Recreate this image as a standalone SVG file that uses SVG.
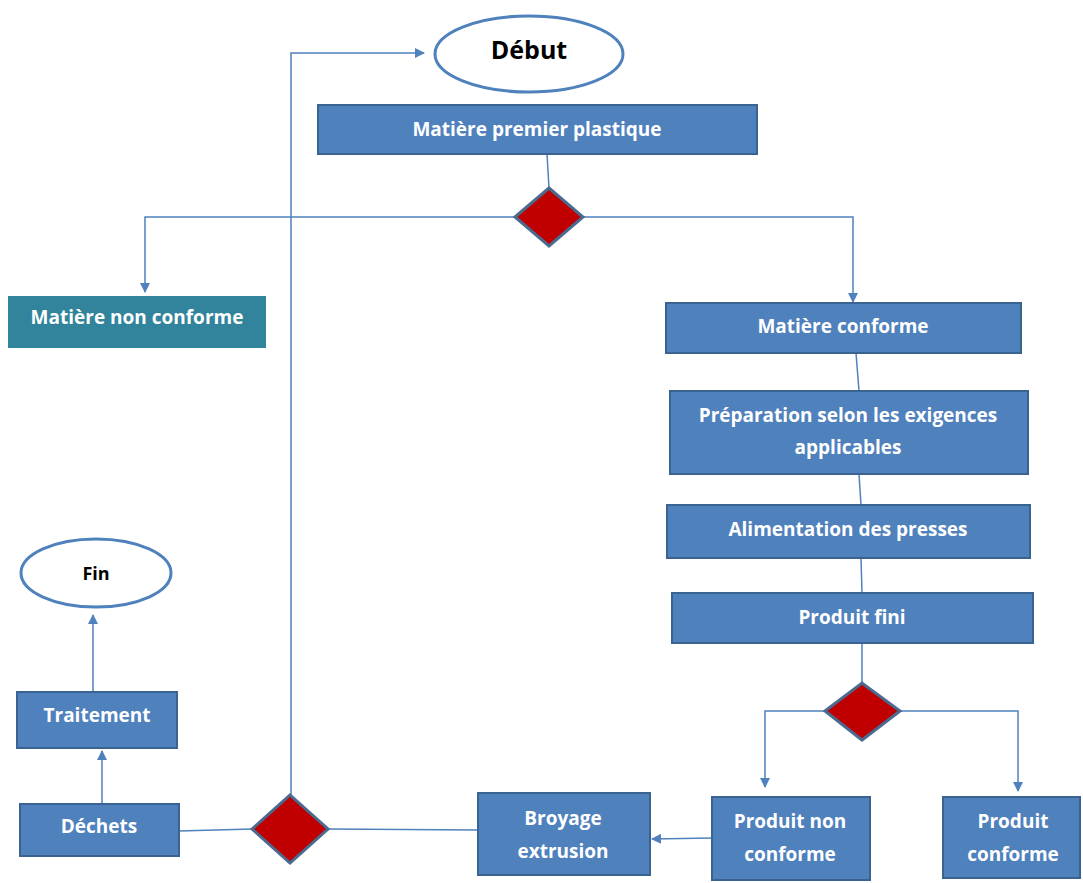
<svg xmlns="http://www.w3.org/2000/svg" width="1083" height="883" viewBox="0 0 1083 883">
<style>
.box{fill:#4F81BD;stroke:#3A6391;stroke-width:2}
.teal{fill:#31849B;stroke:none}
.dia{fill:#C00000;stroke:#4A6A8F;stroke-width:3}
.ell{fill:#fff;stroke:#4F81BD;stroke-width:3}
.t{font-family:"Open Sans","Liberation Sans",sans-serif;font-weight:bold;font-size:19px;fill:#fff;text-anchor:middle}
.k{font-family:"Open Sans","Liberation Sans",sans-serif;font-weight:bold;fill:#000;text-anchor:middle}
.c{fill:none;stroke:#4F81BD;stroke-width:1.5}
.ca{fill:none;stroke:#4F81BD;stroke-width:1.5;marker-end:url(#ah)}
</style>
<defs>
<marker id="ah" viewBox="0 0 10 10" refX="9" refY="5" markerWidth="10" markerHeight="10" markerUnits="userSpaceOnUse" orient="auto">
<path d="M0,0 L10,5 L0,10 z" fill="#4F81BD"/>
</marker>
</defs>
<rect width="1083" height="883" fill="#fff"/>
<g id="connectors">
<path class="ca" d="M291,795 V53 H424"/>
<path class="c" d="M547,154 L549,188"/>
<path class="ca" d="M515,217 H145 V292"/>
<path class="ca" d="M583,217 H853 V302"/>
<path class="c" d="M856,353 L859,391"/>
<path class="c" d="M859,474 L861,505"/>
<path class="c" d="M861,558 L862,593"/>
<path class="c" d="M862,643 L862,683"/>
<path class="ca" d="M825,711 H765 V787"/>
<path class="ca" d="M900,711 H1018 V791"/>
<path class="ca" d="M712,838 L652,839"/>
<path class="c" d="M478,830 L328,829"/>
<path class="c" d="M179,831 L252,829"/>
<path class="ca" d="M102,804 V751"/>
<path class="ca" d="M93,692 V615"/>
</g>
<g id="debut"><ellipse class="ell" cx="529" cy="54" rx="94" ry="38"/><text class="k" x="529" y="59" font-size="25">Début</text></g>
<g id="matiere-premier"><rect class="box" x="318" y="105" width="439" height="49"/><text class="t" x="537" y="136">Matière premier plastique</text></g>
<g id="decision1"><polygon class="dia" points="515,217 549,188 583,217 549,246"/></g>
<g id="matiere-non-conforme"><rect class="teal" x="8" y="296" width="258" height="52"/><text class="t" x="137" y="324">Matière non conforme</text></g>
<g id="matiere-conforme"><rect class="box" x="666" y="303" width="355" height="50"/><text class="t" x="843" y="333">Matière conforme</text></g>
<g id="preparation"><rect class="box" x="670" y="391" width="358" height="83"/><text class="t" x="848" y="422">Préparation selon les exigences</text><text class="t" x="848" y="454">applicables</text></g>
<g id="alimentation"><rect class="box" x="667" y="505" width="363" height="53"/><text class="t" x="848" y="536">Alimentation des presses</text></g>
<g id="produit-fini"><rect class="box" x="672" y="593" width="361" height="50"/><text class="t" x="852" y="624">Produit fini</text></g>
<g id="decision2"><polygon class="dia" points="825,711 862,683 900,711 862,740"/></g>
<g id="produit-non-conforme"><rect class="box" x="712" y="797" width="158" height="83"/><text class="t" x="790" y="828">Produit non</text><text class="t" x="790" y="861">conforme</text></g>
<g id="produit-conforme"><rect class="box" x="943" y="797" width="137" height="81"/><text class="t" x="1013" y="828">Produit</text><text class="t" x="1013" y="861">conforme</text></g>
<g id="broyage"><rect class="box" x="478" y="793" width="172" height="82"/><text class="t" x="563" y="825">Broyage</text><text class="t" x="563" y="858">extrusion</text></g>
<g id="decision3"><polygon class="dia" points="252,829 290,795 328,829 290,863"/></g>
<g id="dechets"><rect class="box" x="20" y="804" width="159" height="52"/><text class="t" x="99" y="833">Déchets</text></g>
<g id="traitement"><rect class="box" x="17" y="692" width="160" height="56"/><text class="t" x="97" y="722">Traitement</text></g>
<g id="fin"><ellipse class="ell" cx="96" cy="573" rx="75" ry="34"/><text class="k" x="96" y="580" font-size="18">Fin</text></g>
</svg>
